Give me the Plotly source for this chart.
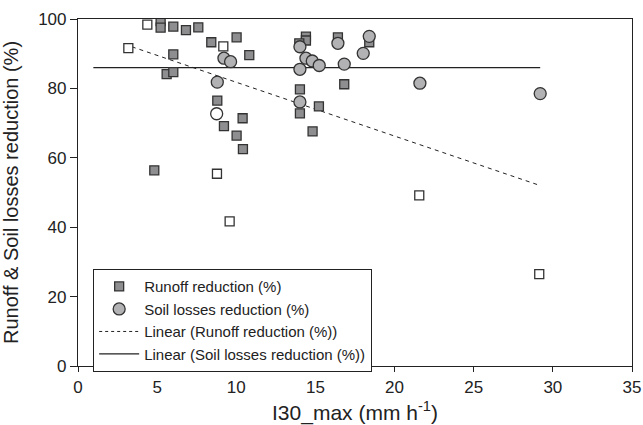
import plotly.graph_objects as go

# Runoff reduction (%) - filled squares
runoff_x = [5.22, 5.22, 6.02, 6.82, 7.6, 8.42, 10.02, 10.82, 6.02, 5.6, 6.02, 8.8, 10.4, 9.22, 10.02, 10.42,
            4.82, 14.4, 14.4, 13.98, 16.42, 18.4, 14.02, 16.82, 15.22, 14.02, 14.82]
runoff_y = [99.4, 97.5, 97.8, 96.8, 97.6, 93.3, 94.7, 89.6, 89.8, 84.1, 84.7, 76.5, 71.4, 69.1, 66.4, 62.5,
            56.4, 94.9, 93.8, 93.0, 94.7, 93.3, 79.7, 81.2, 74.8, 72.8, 67.6]
# Runoff reduction outliers - open squares
runoff_open_x = [4.38, 9.18, 3.18, 8.78, 9.58, 21.56, 29.14]
runoff_open_y = [98.4, 92.1, 91.6, 55.4, 41.7, 49.2, 26.5]

# Soil losses reduction (%) - filled circles
soil_x = [9.22, 9.64, 8.8, 14.02, 14.4, 14.8, 15.24, 14.02, 16.42, 18.4, 18.02, 16.82, 21.6, 29.2, 14.02]
soil_y = [88.7, 87.7, 81.8, 92.0, 88.7, 87.9, 86.6, 85.5, 93.0, 95.0, 90.1, 87.0, 81.5, 78.5, 76.1]
# Soil losses outlier - open circle
soil_open_x = [8.76]
soil_open_y = [72.7]

# Linear trend lines (end points)
trend_runoff_x = [3.4, 29.2]
trend_runoff_y = [92.0, 52.0]
trend_soil_x = [0.97, 29.2]
trend_soil_y = [86.0, 86.0]

x_ticks = [0, 5, 10, 15, 20, 25, 30, 35]
y_ticks = [0, 20, 40, 60, 80, 100]

FILL_SQ = "#8e8e90"
FILL_CI = "#b2b2b4"
EDGE = "#333333"

fig = go.Figure()
fig.add_trace(go.Scatter(x=trend_runoff_x, y=trend_runoff_y, mode="lines",
                         line=dict(color="#222", width=1, dash="4px,4px"),
                         showlegend=False, hoverinfo="skip"))
fig.add_trace(go.Scatter(x=trend_soil_x, y=trend_soil_y, mode="lines",
                         line=dict(color="#222", width=1.2),
                         showlegend=False, hoverinfo="skip"))
fig.add_trace(go.Scatter(x=runoff_open_x, y=runoff_open_y, mode="markers",
                         marker=dict(symbol="square", size=9, color="white", line=dict(color=EDGE, width=1.3)),
                         showlegend=False))
fig.add_trace(go.Scatter(x=soil_open_x, y=soil_open_y, mode="markers",
                         marker=dict(symbol="circle", size=12, color="white", line=dict(color=EDGE, width=1.3)),
                         showlegend=False))
fig.add_trace(go.Scatter(x=runoff_x, y=runoff_y, mode="markers", name="Runoff reduction (%)",
                         marker=dict(symbol="square", size=9, color=FILL_SQ, line=dict(color=EDGE, width=1.3))))
fig.add_trace(go.Scatter(x=soil_x, y=soil_y, mode="markers", name="Soil losses reduction (%)",
                         marker=dict(symbol="circle", size=12, color=FILL_CI, line=dict(color=EDGE, width=1.3))))
# legend entries for trend lines
fig.add_trace(go.Scatter(x=[None], y=[None], mode="lines", name="Linear (Runoff reduction (%))",
                         line=dict(color="#222", width=1, dash="3px,3px")))
fig.add_trace(go.Scatter(x=[None], y=[None], mode="lines", name="Linear (Soil losses reduction (%))",
                         line=dict(color="#222", width=1.2)))

axis_common = dict(showline=True, linecolor="#222", linewidth=1.2, mirror=True,
                   ticks="outside", tickcolor="#222", showgrid=False, zeroline=False,
                   automargin=False, ticklabeloverflow="allow",
                   tickfont=dict(size=17, color="#222"))

fig.update_layout(
    width=643, height=425,
    margin=dict(l=78, r=11, t=19, b=59),
    paper_bgcolor="white", plot_bgcolor="white",
    font=dict(family="Liberation Sans, Arial, sans-serif", color="#222"),
    xaxis=dict(range=[0, 35], tickvals=x_ticks, ticklen=5, **axis_common,
               title=dict(text="I30_max (mm h<sup>-1</sup>)", font=dict(size=21))),
    yaxis=dict(range=[0, 100], tickvals=y_ticks, ticklen=7, **axis_common,
               title=dict(text="Runoff &amp; Soil losses reduction (%)", font=dict(size=20))),
    legend=dict(x=0.027, y=0.2795, xanchor="left", yanchor="top",
                bgcolor="white", bordercolor="#222", borderwidth=1.2,
                font=dict(size=15, color="#222"), tracegroupgap=0, itemwidth=40),
)

# remove the browser's default 8px page margin so the figure fills the window exactly
fig.write_html("out.html", config={"displayModeBar": False},
               post_script="document.body.style.margin='0px';document.body.style.overflow='hidden';")
